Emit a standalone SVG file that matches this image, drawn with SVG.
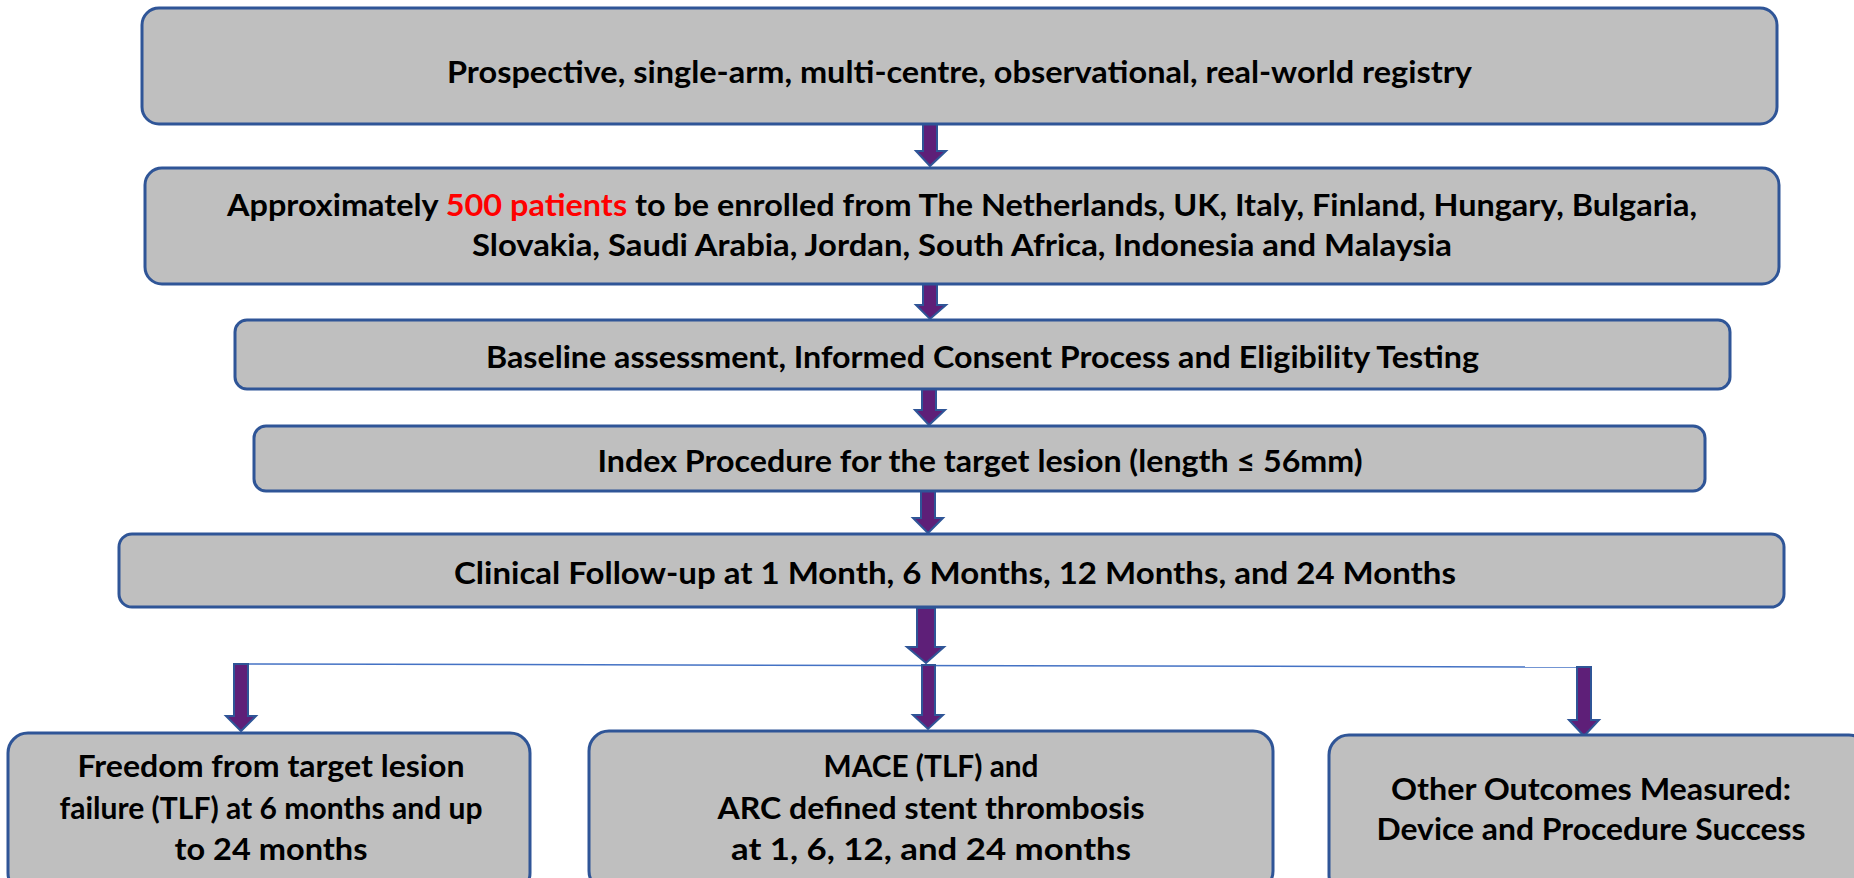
<svg xmlns="http://www.w3.org/2000/svg" width="1854" height="878" viewBox="0 0 1854 878">
<style>
.box{fill:#BFBFBF;stroke:#2F5597;stroke-width:3}
.t{font-family:Lato,"Liberation Sans",sans-serif;font-weight:bold;font-size:30px;fill:#000;text-anchor:middle}
.tb{font-size:31px}
.red{fill:#FF0000}
.arr{fill:#5E1F78;stroke:#2F5597;stroke-width:2;stroke-linejoin:miter}
.ln{stroke:#4472C4;stroke-width:1.5;fill:none}
</style>
<rect width="1854" height="878" fill="#FFFFFF"/>
<g id="connectors">
<line class="ln" x1="248" y1="664" x2="1577" y2="667"/>
<polygon class="arr" points="923,124 937,124 937,151 946,151 930,166 916,151 923,151"/>
<polygon class="arr" points="923,284 937,284 937,305 946,305 930,319 916,305 923,305"/>
<polygon class="arr" points="922,389 936,389 936,410 945,410 929,425 915,410 922,410"/>
<polygon class="arr" points="921,491 935,491 935,518 943,518 928,533 913,518 921,518"/>
<polygon class="arr" points="917,608 935,608 935,647 944,647 926,663 907,647 917,647"/>
<polygon class="arr" points="922,665 935,665 935,715 943,715 928,729 913,715 922,715"/>
<polygon class="arr" points="234,664 248,664 248,716 256,716 241,731 226,716 234,716"/>
<polygon class="arr" points="1577,667 1591,667 1591,720 1599,720 1584,736 1569,720 1577,720"/>
</g>
<g id="n1">
<rect class="box" x="142" y="8" width="1635" height="116" rx="17"/>
<text class="t" x="959.5" y="83" textLength="1025" lengthAdjust="spacingAndGlyphs">Prospective, single-arm, multi-centre, observational, real-world registry</text>
</g>
<g id="n2">
<rect class="box" x="145" y="168" width="1634" height="116" rx="17"/>
<text class="t" x="962" y="216" textLength="1470" lengthAdjust="spacingAndGlyphs">Approximately <tspan class="red">500 patients</tspan> to be enrolled from The Netherlands, UK, Italy, Finland, Hungary, Bulgaria,</text>
<text class="t" x="962" y="256" textLength="980" lengthAdjust="spacingAndGlyphs">Slovakia, Saudi Arabia, Jordan, South Africa, Indonesia and Malaysia</text>
</g>
<g id="n3">
<rect class="box" x="235" y="320" width="1495" height="69" rx="12"/>
<text class="t" x="982.5" y="368" textLength="993" lengthAdjust="spacingAndGlyphs">Baseline assessment, Informed Consent Process and Eligibility Testing</text>
</g>
<g id="n4">
<rect class="box" x="254" y="426" width="1451" height="65" rx="12"/>
<text class="t" x="980" y="472" textLength="765" lengthAdjust="spacingAndGlyphs">Index Procedure for the target lesion (length ≤ 56mm)</text>
</g>
<g id="n5">
<rect class="box" x="119" y="534" width="1665" height="73" rx="13"/>
<text class="t" x="955" y="584" textLength="1002" lengthAdjust="spacingAndGlyphs">Clinical Follow-up at 1 Month, 6 Months, 12 Months, and 24 Months</text>
</g>
<g id="n6">
<rect class="box" x="8" y="733" width="522" height="160" rx="20"/>
<text class="t tb" x="271" y="777" textLength="387" lengthAdjust="spacingAndGlyphs">Freedom from target lesion</text>
<text class="t tb" x="271" y="819" textLength="423" lengthAdjust="spacingAndGlyphs">failure (TLF) at 6 months and up</text>
<text class="t tb" x="271" y="860" textLength="193" lengthAdjust="spacingAndGlyphs">to 24 months</text>
</g>
<g id="n7">
<rect class="box" x="589" y="731" width="684" height="160" rx="20"/>
<text class="t tb" x="931" y="777" textLength="215" lengthAdjust="spacingAndGlyphs">MACE (TLF) and</text>
<text class="t tb" x="931" y="819" textLength="427" lengthAdjust="spacingAndGlyphs">ARC defined stent thrombosis</text>
<text class="t tb" x="931" y="860" textLength="400" lengthAdjust="spacingAndGlyphs">at 1, 6, 12, and 24 months</text>
</g>
<g id="n8">
<rect class="box" x="1329" y="735" width="540" height="160" rx="20"/>
<text class="t tb" x="1591" y="800" textLength="400" lengthAdjust="spacingAndGlyphs">Other Outcomes Measured:</text>
<text class="t tb" x="1591" y="840" textLength="429" lengthAdjust="spacingAndGlyphs">Device and Procedure Success</text>
</g>
</svg>
